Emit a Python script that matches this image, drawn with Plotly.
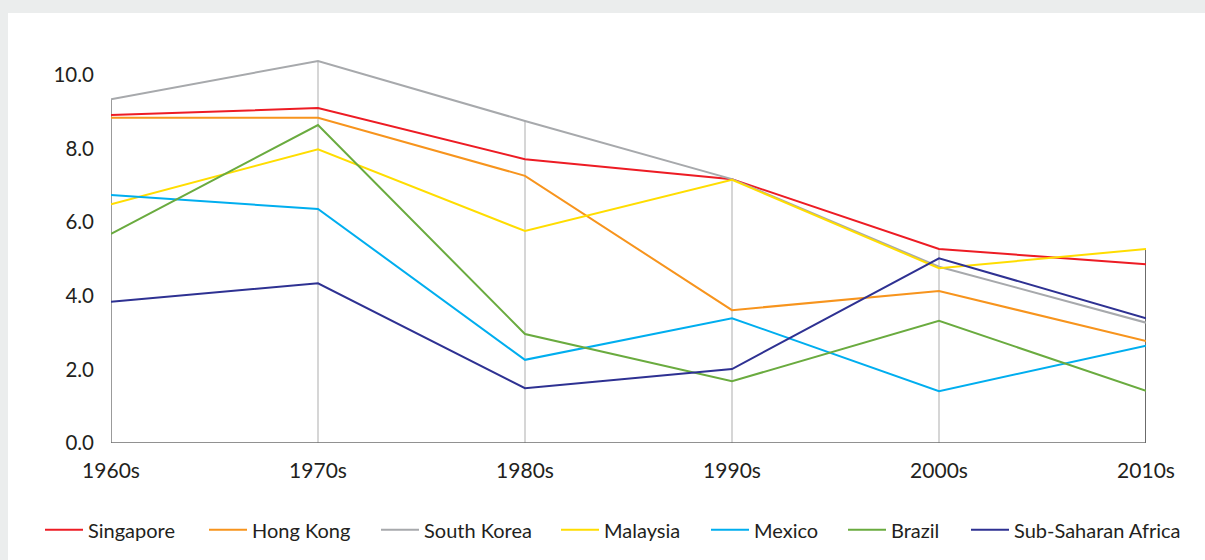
import plotly.graph_objects as go

decades = ["1960s", "1970s", "1980s", "1990s", "2000s", "2010s"]
singapore = [8.91, 9.10, 7.71, 7.17, 5.27, 4.86]
hong_kong = [8.84, 8.84, 7.26, 3.61, 4.13, 2.77]
south_korea = [9.34, 10.38, 8.75, 7.17, 4.79, 3.27]
malaysia = [6.49, 7.98, 5.76, 7.15, 4.75, 5.27]
mexico = [6.74, 6.36, 2.26, 3.39, 1.41, 2.64]
brazil = [5.68, 8.64, 2.96, 1.68, 3.32, 1.42]
ssa = [3.84, 4.34, 1.49, 2.01, 5.02, 3.39]
y_ticks = [0, 2, 4, 6, 8, 10]
y_tick_labels = ["0.0", "2.0", "4.0", "6.0", "8.0", "10.0"]

series = [
    ("Singapore", singapore, "#ed1c24"),
    ("Hong Kong", hong_kong, "#f7941d"),
    ("South Korea", south_korea, "#a7a9ac"),
    ("Malaysia", malaysia, "#ffdd00"),
    ("Mexico", mexico, "#00aeef"),
    ("Brazil", brazil, "#6aab3f"),
    ("Sub-Saharan Africa", ssa, "#2e3192"),
]
# left pixel of each legend box
legend_left_px = [40, 204, 376, 556, 706, 843, 966]

xs = list(range(len(decades)))
fig = go.Figure()
font_family = "Lato, 'Open Sans', sans-serif"
legend_layouts = {}
for k, (name, vals, col) in enumerate(series):
    lg = "legend" if k == 0 else f"legend{k + 1}"
    fig.add_trace(go.Scatter(x=xs, y=vals, name=name, mode="lines",
                             line=dict(color=col, width=2), legend=lg))
    legend_layouts[lg] = dict(orientation="h", xref="container", yref="container",
                              x=legend_left_px[k] / 1205, xanchor="left",
                              y=0.054, yanchor="middle", itemwidth=38,
                              font=dict(size=20, color="#231f20", family=font_family),
                              bgcolor="rgba(0,0,0,0)")

shapes = []
# drop lines from top value down to zero at each decade
for i in xs:
    top = max(s[1][i] for s in series)
    if i == 0:
        c = "#7a7a7a"
    elif i == len(xs) - 1:
        c = "#3a3a3a"
    else:
        c = "#c8c8c8"
    shapes.append(dict(type="line", xref="x", yref="y", x0=i, x1=i, y0=0, y1=top,
                       line=dict(color=c, width=1.5), layer="below"))
# baseline
shapes.append(dict(type="line", xref="x", yref="y", x0=0, x1=len(xs) - 1, y0=0, y1=0,
                   line=dict(color="#6d6d6d", width=1.5), layer="below"))
# outer light frame (top and left bands)
shapes.append(dict(type="rect", xref="paper", yref="paper", x0=-0.2, x1=1.2,
                   y0=(443 - 13) / 388, y1=1.3, fillcolor="#ebeded", line=dict(width=0),
                   layer="below"))
shapes.append(dict(type="rect", xref="paper", yref="paper", x0=-0.2, x1=(8 - 111) / 1035,
                   y0=-0.4, y1=1.3, fillcolor="#ebeded", line=dict(width=0),
                   layer="below"))

fig.update_layout(
    width=1205, height=560,
    margin=dict(l=111, r=59, t=55, b=117),
    paper_bgcolor="white", plot_bgcolor="white",
    font=dict(family=font_family, size=18, color="#231f20"),
    shapes=shapes,
    showlegend=True,
    xaxis=dict(range=[0, len(xs) - 1], tickvals=xs, ticktext=decades,
               showgrid=False, zeroline=False, showline=False, ticks="",
               ticklabelstandoff=13, tickfont=dict(size=21)),
    yaxis=dict(range=[0, (443 - 55) / 36.8], tickvals=y_ticks, ticktext=y_tick_labels,
               showgrid=False, zeroline=False, showline=False, ticks="",
               ticklabelstandoff=16, tickfont=dict(size=20.5)),
    **legend_layouts,
)

fig.write_html("out.html")
